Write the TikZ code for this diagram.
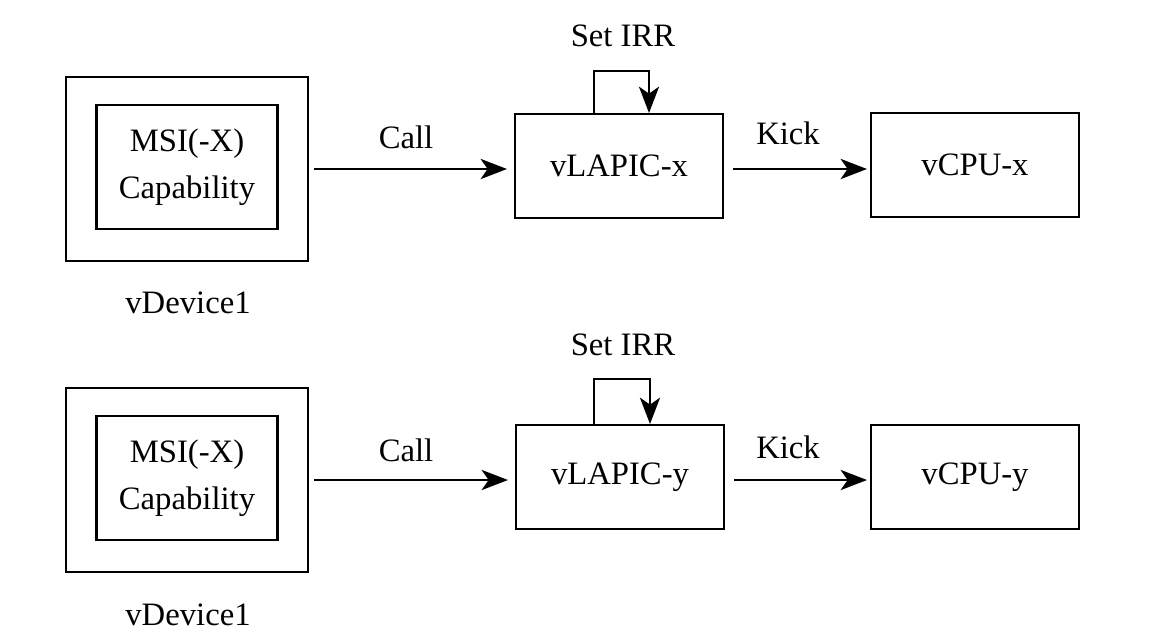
\documentclass[tikz,border=0pt]{standalone}
\usepackage{fontspec}
\setmainfont{Liberation Serif}
\usepackage{tikz}
\usetikzlibrary{arrows.meta, positioning, calc}

\begin{document}
\begin{tikzpicture}[x=0.02cm, y=-0.02cm,
  every node/.style={font=\fontsize{18.6}{27}\selectfont},
  box/.style={draw, line width=1.2pt, inner sep=0pt},
  flow/.style={line width=1.2pt, -{Stealth[length=15pt, width=11.5pt, inset=4pt]}}]
  \useasboundingbox (0,0) rectangle (1152,643);

  % upper row
  \node[box, minimum width=4.84cm, minimum height=3.68cm] (dev1) at (187,169) {};
  \node[box, minimum width=3.62cm, minimum height=2.48cm, align=center] (cap1) at (187,167) {MSI(-X)\\Capability};
  \node[anchor=base] (name1) at (188,313) {vDevice1};
  \node[box, minimum width=4.16cm, minimum height=2.08cm] (lapic1) at (619,166) {vLAPIC-x};
  \node[box, minimum width=4.16cm, minimum height=2.08cm] (cpu1) at (975,165) {vCPU-x};
  \node[anchor=base] (call1) at (406,148) {Call};
  \node[anchor=base] (kick1) at (788,144) {Kick};
  \node[anchor=base] (irr1) at (623,46) {Set IRR};

  \draw[flow, shorten <=0.1cm, shorten >=0.14cm] (dev1.east) -- (dev1.east -| lapic1.west);
  \draw[flow, shorten <=0.18cm, shorten >=0.06cm] (lapic1.east |- dev1.east) -- (cpu1.west |- dev1.east);
  \draw[flow] ($(lapic1.north)+(-25,0)$) -- ++(0,-42) -| ($(lapic1.north)+(30,0)$);

  % lower row
  \node[box, minimum width=4.84cm, minimum height=3.68cm] (dev2) at (187,480) {};
  \node[box, minimum width=3.62cm, minimum height=2.48cm, align=center] (cap2) at (187,478) {MSI(-X)\\Capability};
  \node[anchor=base] (name2) at (188,625) {vDevice1};
  \node[box, minimum width=4.16cm, minimum height=2.08cm] (lapic2) at (620,477) {vLAPIC-y};
  \node[box, minimum width=4.16cm, minimum height=2.08cm] (cpu2) at (975,477) {vCPU-y};
  \node[anchor=base] (call2) at (406,461) {Call};
  \node[anchor=base] (kick2) at (788,458) {Kick};
  \node[anchor=base] (irr2) at (623,355) {Set IRR};

  \draw[flow, shorten <=0.1cm, shorten >=0.14cm] (dev2.east) -- (dev2.east -| lapic2.west);
  \draw[flow, shorten <=0.18cm, shorten >=0.06cm] (lapic2.east |- dev2.east) -- (cpu2.west |- dev2.east);
  \draw[flow] ($(lapic2.north)+(-26,0)$) -- ++(0,-45) -| ($(lapic2.north)+(30,0)$);
\end{tikzpicture}
\end{document}
